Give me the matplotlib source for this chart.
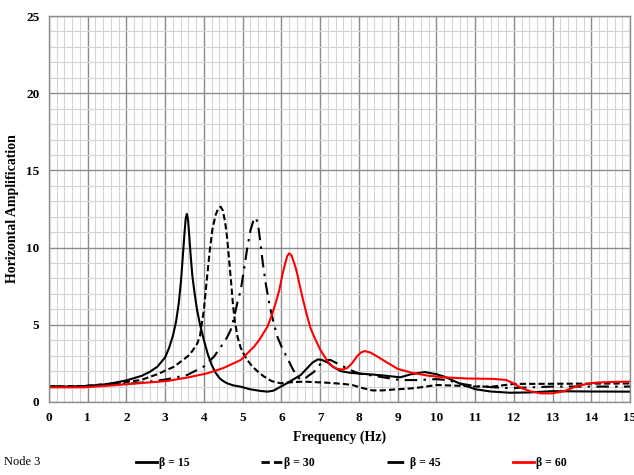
import matplotlib
matplotlib.use("Agg")
import matplotlib.pyplot as plt
from matplotlib.ticker import MultipleLocator

# --------------------------------------------------------------------------
# data (frequency in Hz, amplification)
# --------------------------------------------------------------------------
f15 = [0, 0.5, 0.9, 1.5, 2.0, 2.4, 2.6, 2.8, 3.0, 3.1, 3.2, 3.28, 3.35, 3.41,
       3.46, 3.5, 3.53, 3.56, 3.59, 3.62, 3.66, 3.7, 3.75, 3.82, 3.9, 4.0,
       4.1, 4.2, 4.3, 4.4, 4.5, 4.6, 4.75, 4.95, 5.2, 5.45, 5.64, 5.8, 5.95,
       6.1, 6.3, 6.5, 6.65, 6.8, 6.94, 7.05, 7.2, 7.35, 7.53, 7.75, 7.97,
       8.5, 9.07, 9.35, 9.7, 10.0, 10.2, 10.6, 11.0, 11.4, 11.9, 12.4, 13.0,
       14.0, 15.0]
a15 = [1.0, 1.0, 1.03, 1.15, 1.4, 1.7, 1.95, 2.29, 2.9, 3.5, 4.3, 5.2, 6.4,
       7.9, 9.6, 11.0, 11.9, 12.18, 11.8, 10.8, 9.4, 8.2, 7.2, 6.0, 5.0, 4.0,
       3.1, 2.4, 1.9, 1.55, 1.35, 1.21, 1.08, 0.99, 0.82, 0.72, 0.67, 0.74,
       0.95, 1.15, 1.45, 1.75, 2.15, 2.55, 2.76, 2.72, 2.55, 2.25, 2.0, 1.9,
       1.85, 1.75, 1.6, 1.8, 1.94, 1.8, 1.65, 1.2, 0.83, 0.68, 0.6, 0.62,
       0.7, 0.68, 0.67]

f30 = [0, 0.9, 1.51, 2.0, 2.37, 2.8, 3.23, 3.5, 3.6, 3.7, 3.83, 3.9, 4.0,
       4.05, 4.09, 4.15, 4.22, 4.3, 4.37, 4.43, 4.49, 4.55, 4.6, 4.65, 4.7,
       4.75, 4.8, 4.87, 4.95, 5.05, 5.12, 5.25, 5.4, 5.55, 5.75, 5.98, 6.2,
       6.57, 7.17, 7.6, 7.83, 8.1, 8.35, 8.6, 8.86, 9.35, 9.6, 10.0, 10.6,
       11.0, 11.45, 12.0, 13.0, 15.0]
a30 = [1.0, 1.03, 1.17, 1.3, 1.42, 1.8, 2.29, 2.8, 3.0, 3.3, 3.8, 4.3, 6.0,
       7.3, 8.3, 9.8, 11.2, 12.1, 12.55, 12.65, 12.4, 11.6, 10.6, 9.2, 7.8,
       6.3, 5.2, 4.2, 3.5, 3.0, 2.72, 2.3, 1.95, 1.65, 1.35, 1.21, 1.27,
       1.32, 1.25, 1.17, 1.1, 0.9, 0.75, 0.75, 0.8, 0.88, 0.95, 1.1, 1.05,
       1.0, 1.0, 1.17, 1.18, 1.2]

f45 = [0, 0.9, 1.5, 2.37, 3.0, 3.57, 4.0, 4.26, 4.5, 4.6, 4.69, 4.78, 4.87,
       4.95, 5.03, 5.12, 5.2, 5.27, 5.33, 5.39, 5.45, 5.52, 5.6, 5.7, 5.81,
       5.9, 6.0, 6.1, 6.2, 6.3, 6.4, 6.49, 6.6, 6.7, 6.84, 6.95, 7.06, 7.17,
       7.27, 7.4, 7.6, 7.8, 8.0, 8.5, 9.07, 9.5, 10.0, 10.3, 10.6, 11.0,
       11.5, 11.9, 13.0, 15.0]
a45 = [1.0, 1.03, 1.1, 1.25, 1.45, 1.75, 2.3, 2.94, 3.8, 4.2, 4.66, 5.5, 6.5,
       7.25, 8.5, 10.0, 11.1, 11.7, 11.96, 11.6, 10.5, 9.0, 7.6, 6.2, 5.0,
       4.2, 3.6, 3.1, 2.6, 2.1, 1.7, 1.45, 1.5, 1.7, 1.95, 2.3, 2.6, 2.72,
       2.72, 2.55, 2.3, 2.05, 1.85, 1.65, 1.42, 1.42, 1.48, 1.42, 1.2, 1.03,
       0.95, 0.9, 1.0, 1.0]

f60 = [0, 0.91, 1.5, 2.0, 3.06, 3.6, 4.09, 4.5, 4.95, 5.3, 5.45, 5.64, 5.75,
       5.85, 5.95, 6.03, 6.1, 6.15, 6.2, 6.26, 6.33, 6.4, 6.47, 6.55, 6.65,
       6.75, 6.85, 7.0, 7.1, 7.2, 7.32, 7.44, 7.58, 7.7, 7.82, 7.95, 8.05,
       8.15, 8.3, 8.46, 8.7, 9.0, 9.35, 9.8, 10.2, 10.8, 11.45, 11.8, 12.0,
       12.2, 12.45, 12.7, 13.0, 13.3, 13.6, 13.9, 14.15, 14.6, 15.0]
a60 = [0.95, 0.95, 1.05, 1.15, 1.36, 1.6, 1.86, 2.2, 2.72, 3.6, 4.1, 4.88,
       5.6, 6.4, 7.3, 8.3, 9.0, 9.45, 9.63, 9.5, 9.0, 8.4, 7.6, 6.7, 5.7,
       4.8, 4.2, 3.4, 3.0, 2.6, 2.3, 2.15, 2.1, 2.2, 2.5, 2.95, 3.2, 3.3,
       3.2, 2.97, 2.6, 2.15, 1.9, 1.7, 1.6, 1.52, 1.5, 1.43, 1.2, 0.9, 0.68,
       0.56, 0.56, 0.7, 1.0, 1.18, 1.26, 1.3, 1.32]

labels = ["β = 15", "β = 30", "β = 45", "β = 60"]
node_label = "Node 3"

plt.rcParams["font.family"] = ["Liberation Serif", "DejaVu Serif"]

fig = plt.figure(figsize=(6.34, 4.75), dpi=100)
ax = fig.add_axes([49 / 634, 1 - 402 / 475, 581 / 634, 386 / 475])

lw = 1.5
ax.plot(f15, a15, color="black", lw=lw, ls="-", label=labels[0])
ax.plot(f30, a30, color="black", lw=lw, ls=(0, (3, 1.5)), label=labels[1])
ax.plot(f45, a45, color="black", lw=lw, ls=(0, (6, 3, 1.2, 3)), label=labels[2])
ax.plot(f60, a60, color="#ff0000", lw=lw, ls="-", label=labels[3])

ax.set_xlim(0, 15)
ax.set_ylim(0, 25)
ax.xaxis.set_major_locator(MultipleLocator(1))
ax.xaxis.set_minor_locator(MultipleLocator(0.2))
ax.yaxis.set_major_locator(MultipleLocator(5))
ax.yaxis.set_minor_locator(MultipleLocator(1))
ax.grid(which="minor", color="#d4d4d4", lw=0.8)
ax.grid(which="major", color="#8c8c8c", lw=1.0)
ax.set_axisbelow(True)
ax.tick_params(which="both", length=0, labelsize=9.5, pad=7)
for lab in ax.get_xticklabels() + ax.get_yticklabels():
    lab.set_fontweight("bold")
for s in ax.spines.values():
    s.set_color("#8c8c8c")
    s.set_linewidth(1.0)

ax.set_xlabel("Frequency (Hz)", fontsize=10, fontweight="bold", labelpad=5)
ax.set_ylabel("Horizontal Amplification", fontsize=10, fontweight="bold",
              labelpad=5)

fig.text(4 / 634, 1 - 462 / 475, node_label, fontsize=9, va="center",
         ha="left")
leg = fig.legend(loc="center left", bbox_to_anchor=(131 / 634, 1 - 463 / 475),
                 ncol=4, frameon=False, fontsize=8.5, handlelength=1.8,
                 handletextpad=0.15, columnspacing=6.1, borderaxespad=0,
                 prop={"weight": "bold", "size": 8.5})
for h in leg.get_lines():
    h.set_linewidth(2.0)

fig.savefig("out.png", dpi=100)
